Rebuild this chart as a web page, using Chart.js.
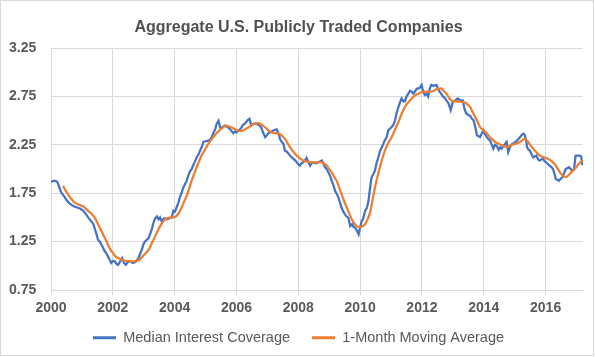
<!DOCTYPE html>
<html>
<head>
<meta charset="utf-8">
<script src="https://cdn.jsdelivr.net/npm/chart.js@4.4.1/dist/chart.umd.min.js"></script>
<style>
html,body{margin:0;padding:0;background:#fff;}
#wrap{width:595px;height:357px;position:relative;}
</style>
</head>
<body>
<div id="wrap"><canvas id="c" width="595" height="357"></canvas></div>
<script>
const chartTitle = "Aggregate U.S. Publicly Traded Companies";
const seriesNames = ["Median Interest Coverage", "1-Month Moving Average"];
const xTickYears = [2000, 2002, 2004, 2006, 2008, 2010, 2012, 2014, 2016];
const yTickValues = [0.75, 1.25, 1.75, 2.25, 2.75, 3.25];

const blueYears = [
2000.0,2000.1,2000.2,2000.26,2000.33,2000.42,2000.5,2000.58,2000.66,2000.77,2000.87,2000.95,
2001.04,2001.12,2001.2,2001.3,2001.36,2001.41,2001.47,2001.52,2001.58,2001.63,2001.68,2001.74,2001.79,2001.84,2001.9,2001.95,
2002.0,2002.06,2002.12,2002.17,2002.23,2002.3,2002.36,2002.42,2002.49,2002.56,2002.64,2002.73,2002.83,2002.88,2002.94,
2003.0,2003.05,2003.1,2003.16,2003.22,2003.27,2003.32,2003.37,2003.43,2003.48,2003.53,2003.58,2003.66,2003.74,2003.82,2003.9,2003.96,
2004.01,2004.06,2004.12,2004.17,2004.22,2004.28,2004.33,2004.39,2004.45,2004.5,2004.55,2004.6,2004.66,2004.71,2004.77,2004.82,2004.88,2004.93,
2005.03,2005.14,2005.2,2005.25,2005.31,2005.36,2005.42,2005.47,2005.52,2005.58,2005.63,2005.68,2005.73,2005.8,2005.85,2005.9,2005.95,
2006.0,2006.08,2006.16,2006.22,2006.27,2006.32,2006.37,2006.42,2006.48,2006.56,2006.64,2006.7,2006.75,2006.8,2006.87,2006.93,
2007.03,2007.1,2007.19,2007.3,2007.36,2007.41,2007.47,2007.52,2007.57,2007.63,2007.68,2007.76,2007.84,2007.9,2007.95,
2008.0,2008.05,2008.1,2008.16,2008.22,2008.27,2008.33,2008.38,2008.43,2008.49,2008.57,2008.65,2008.7,2008.76,2008.81,2008.86,2008.92,2008.97,
2009.03,2009.08,2009.14,2009.19,2009.25,2009.3,2009.35,2009.4,2009.46,2009.51,2009.56,2009.62,2009.68,2009.74,2009.79,2009.84,2009.9,2009.95,
2010.0,2010.05,2010.1,2010.16,2010.22,2010.27,2010.32,2010.37,2010.43,2010.48,2010.53,2010.59,2010.64,2010.7,2010.75,2010.8,2010.86,2010.91,2010.97,
2011.02,2011.08,2011.13,2011.18,2011.24,2011.29,2011.34,2011.4,2011.45,2011.5,2011.56,2011.61,2011.67,2011.72,2011.77,2011.83,2011.88,2011.93,2011.99,
2012.04,2012.09,2012.15,2012.2,2012.25,2012.3,2012.38,2012.47,2012.52,2012.57,2012.62,2012.68,2012.73,2012.79,2012.86,2012.93,
2013.0,2013.08,2013.16,2013.24,2013.32,2013.38,2013.43,2013.5,2013.56,2013.62,2013.67,2013.72,2013.78,2013.83,2013.88,2013.94,2013.99,
2014.04,2014.1,2014.15,2014.2,2014.26,2014.31,2014.36,2014.42,2014.48,2014.53,2014.58,2014.63,2014.69,2014.74,2014.79,2014.85,2014.9,2014.98,
2015.06,2015.12,2015.17,2015.22,2015.28,2015.33,2015.37,2015.4,2015.45,2015.49,2015.55,2015.6,2015.65,2015.7,2015.76,2015.81,2015.86,2015.92,2015.97,
2016.02,2016.08,2016.13,2016.19,2016.24,2016.29,2016.33,2016.38,2016.43,2016.49,2016.54,2016.6,2016.65,2016.7,2016.76,2016.81,2016.86,2016.92,2016.97,
2017.03,2017.1,2017.15,2017.18,2017.2
];
const blueValues = [
1.87,1.88,1.87,1.82,1.76,1.72,1.68,1.65,1.63,1.61,1.60,1.59,
1.57,1.54,1.50,1.46,1.44,1.39,1.33,1.27,1.25,1.22,1.19,1.15,1.13,1.10,1.06,1.03,
1.05,1.047,1.02,1.01,1.04,1.08,1.03,1.01,1.04,1.05,1.03,1.04,1.08,1.12,1.17,
1.23,1.255,1.27,1.29,1.34,1.39,1.45,1.49,1.51,1.48,1.50,1.46,1.49,1.48,1.49,1.50,1.57,
1.56,1.60,1.65,1.71,1.75,1.81,1.84,1.88,1.94,1.98,2.00,2.04,2.08,2.12,2.15,2.19,2.23,2.28,
2.29,2.30,2.33,2.37,2.41,2.47,2.50,2.43,2.43,2.44,2.45,2.44,2.43,2.41,2.39,2.37,2.39,
2.38,2.40,2.43,2.46,2.47,2.49,2.51,2.52,2.45,2.47,2.47,2.46,2.45,2.43,2.37,2.33,
2.37,2.38,2.40,2.41,2.37,2.31,2.28,2.26,2.19,2.18,2.16,2.13,2.106,2.09,2.07,
2.05,2.036,2.06,2.07,2.09,2.116,2.07,2.036,2.06,2.07,2.06,2.07,2.08,2.09,2.06,2.02,2.00,1.967,
1.93,1.88,1.83,1.776,1.74,1.706,1.65,1.60,1.56,1.533,1.51,1.498,1.41,1.43,1.40,1.394,1.36,1.325,
1.40,1.46,1.49,1.568,1.60,1.67,1.80,1.915,1.95,1.984,2.06,2.123,2.18,2.227,2.26,2.297,2.33,2.40,2.42,
2.435,2.46,2.505,2.58,2.644,2.69,2.73,2.70,2.70,2.75,2.78,2.81,2.80,2.78,2.80,2.83,2.835,2.84,2.87,
2.80,2.766,2.78,2.75,2.83,2.87,2.86,2.87,2.83,2.80,2.78,2.75,2.74,2.71,2.68,2.61,
2.70,2.71,2.73,2.71,2.71,2.62,2.575,2.56,2.55,2.52,2.505,2.44,2.35,2.34,2.33,2.37,2.40,
2.36,2.33,2.31,2.297,2.25,2.21,2.25,2.24,2.20,2.225,2.21,2.24,2.26,2.28,2.175,2.23,2.255,2.27,
2.29,2.31,2.33,2.35,2.367,2.35,2.30,2.227,2.20,2.19,2.15,2.123,2.13,2.14,2.10,2.088,2.10,2.105,2.08,
2.07,2.05,2.036,2.02,2.0,1.95,1.898,1.89,1.88,1.90,1.915,1.96,2.0,2.01,2.02,2.00,1.984,2.00,2.14,
2.14,2.14,2.13,2.054,2.05
];

const orangeYears = [
2000.39,2000.47,2000.55,2000.66,2000.77,2000.88,2001.0,2001.1,2001.2,2001.3,2001.41,2001.52,2001.63,2001.74,2001.84,2001.92,
2002.0,2002.08,2002.17,2002.28,2002.38,2002.5,2002.65,2002.75,2002.83,2002.9,2002.97,
2003.06,2003.16,2003.27,2003.37,2003.45,2003.53,2003.61,2003.69,2003.8,2003.9,
2004.0,2004.06,2004.14,2004.22,2004.3,2004.39,2004.47,2004.55,2004.63,2004.71,2004.79,2004.87,2004.98,
2005.09,2005.2,2005.3,2005.41,2005.52,2005.6,2005.68,2005.76,2005.84,2005.97,
2006.11,2006.22,2006.32,2006.43,2006.53,2006.61,2006.69,2006.76,2006.85,2006.97,
2007.08,2007.19,2007.3,2007.41,2007.49,2007.57,2007.65,2007.73,2007.84,2007.95,
2008.05,2008.16,2008.3,2008.49,2008.62,2008.76,2008.84,2008.92,
2009.0,2009.08,2009.16,2009.24,2009.32,2009.4,2009.48,2009.57,2009.65,2009.73,2009.81,2009.89,
2010.0,2010.08,2010.16,2010.24,2010.32,2010.4,2010.48,2010.56,2010.64,2010.72,2010.8,2010.91,
2011.02,2011.13,2011.24,2011.34,2011.45,2011.56,2011.67,2011.77,2011.88,2011.99,
2012.09,2012.2,2012.3,2012.38,2012.47,2012.55,2012.62,2012.7,2012.79,2012.87,2012.95,
2013.06,2013.16,2013.27,2013.38,2013.47,2013.56,2013.64,2013.72,2013.8,2013.88,2013.99,
2014.1,2014.2,2014.31,2014.42,2014.53,2014.63,2014.74,2014.84,2014.95,
2015.06,2015.17,2015.25,2015.33,2015.41,2015.49,2015.6,2015.7,2015.78,2015.86,2015.96,
2016.07,2016.16,2016.24,2016.32,2016.4,2016.48,2016.56,2016.67,2016.75,2016.83,2016.91,2016.99,
2017.09,2017.18,2017.2
];
const orangeValues = [
1.828,1.78,1.74,1.69,1.654,1.635,1.62,1.60,1.568,1.54,1.50,1.43,1.36,1.29,1.22,1.17,
1.133,1.10,1.08,1.062,1.054,1.05,1.047,1.05,1.054,1.075,1.099,
1.13,1.168,1.24,1.307,1.36,1.41,1.45,1.48,1.495,1.50,
1.505,1.515,1.55,1.60,1.66,1.724,1.80,1.88,1.95,2.02,2.08,2.14,2.20,
2.26,2.31,2.35,2.39,2.42,2.44,2.45,2.44,2.43,2.41,
2.394,2.40,2.42,2.44,2.463,2.47,2.475,2.47,2.45,2.42,
2.39,2.373,2.37,2.36,2.34,2.31,2.27,2.227,2.18,2.14,
2.11,2.088,2.075,2.07,2.07,2.07,2.055,2.036,
2.00,1.967,1.92,1.88,1.81,1.74,1.67,1.60,1.54,1.48,1.44,1.41,
1.40,1.41,1.43,1.48,1.55,1.68,1.81,1.92,2.02,2.11,2.19,2.27,
2.33,2.41,2.487,2.57,2.644,2.69,2.73,2.76,2.78,2.795,
2.80,2.80,2.80,2.81,2.825,2.83,2.835,2.81,2.78,2.74,2.71,
2.70,2.70,2.695,2.69,2.67,2.64,2.59,2.54,2.49,2.435,2.40,
2.367,2.33,2.297,2.27,2.255,2.24,2.227,2.24,2.255,
2.265,2.28,2.30,2.314,2.29,2.255,2.21,2.175,2.15,2.13,2.12,
2.106,2.09,2.07,2.04,2.0,1.96,1.93,1.92,1.94,1.966,1.99,2.02,
2.06,2.088,2.09
];

const toPoints = (xs, ys) => xs.map((x, i) => ({x: x, y: ys[i]}));

const borderPlugin = {
  id: 'frame',
  beforeDraw(chart) {
    const ctx = chart.ctx;
    ctx.save();
    ctx.fillStyle = '#ffffff';
    ctx.fillRect(0, 0, chart.width, chart.height);
    ctx.restore();
  },
  afterDraw(chart) {
    const ctx = chart.ctx;
    ctx.save();
    ctx.strokeStyle = '#d9d9d9';
    ctx.lineWidth = 1;
    ctx.strokeRect(0.5, 0.5, chart.width - 2, chart.height - 2);
    ctx.restore();
  }
};

const textColor = '#595959';
const fontFamily = "'Liberation Sans', Arial, sans-serif";

new Chart(document.getElementById('c'), {
  type: 'scatter',
  data: {
    datasets: [
      {
        label: seriesNames[1],
        data: toPoints(orangeYears, orangeValues),
        showLine: true,
        borderColor: '#ED7D31',
        backgroundColor: '#ED7D31',
        borderWidth: 2.25,
        pointRadius: 0,
        tension: 0.3
      },
      {
        label: seriesNames[0],
        data: toPoints(blueYears, blueValues),
        showLine: true,
        borderColor: '#4472C4',
        backgroundColor: '#4472C4',
        borderWidth: 2.25,
        pointRadius: 0,
        tension: 0
      }
    ]
  },
  plugins: [borderPlugin],
  options: {
    responsive: false,
    animation: false,
    layout: { padding: { left: 14, right: 12, top: 0, bottom: 2 } },
    plugins: {
      title: {
        display: true,
        text: chartTitle,
        color: '#505050',
        font: { family: fontFamily, size: 16, weight: 'bold' },
        padding: { top: 18, bottom: 11 }
      },
      legend: {
        display: true,
        position: 'bottom',
        labels: {
          boxWidth: 23,
          boxHeight: 3,
          padding: 22,
          color: textColor,
          font: { family: fontFamily, size: 14.5 },
          sort: (a, b) => b.datasetIndex - a.datasetIndex,
          generateLabels: (chart) => {
            const items = Chart.defaults.plugins.legend.labels.generateLabels(chart);
            items.forEach(it => { it.lineWidth = 0; });
            return items;
          }
        }
      },
      tooltip: { enabled: false }
    },
    scales: {
      x: {
        type: 'linear',
        min: 2000,
        max: 2017.21,
        afterBuildTicks: (scale) => { scale.ticks = xTickYears.map(v => ({value: v})); },
        afterFit: (scale) => { scale.height = 18.5; },
        grid: { color: '#d9d9d9', lineWidth: 1, drawTicks: true, tickLength: 5, tickColor: '#d9d9d9' },
        border: { display: false },
        ticks: {
          color: textColor,
          font: { family: fontFamily, size: 14, weight: 'bold' },
          mirror: true,
          padding: -27,
          maxRotation: 0,
          autoSkip: false,
          callback: (v) => String(v)
        }
      },
      y: {
        type: 'linear',
        min: 0.75,
        max: 3.25,
        afterBuildTicks: (scale) => { scale.ticks = yTickValues.map(v => ({value: v})); },
        afterFit: (scale) => { scale.width = 37; },
        grid: { color: '#d9d9d9', lineWidth: 1, drawTicks: false },
        border: { display: false },
        ticks: {
          color: textColor,
          font: { family: fontFamily, size: 14, weight: 'bold' },
          mirror: true,
          crossAlign: 'far',
          padding: -42,
          callback: (v) => v.toFixed(2)
        }
      }
    }
  }
});
</script>
</body>
</html>
